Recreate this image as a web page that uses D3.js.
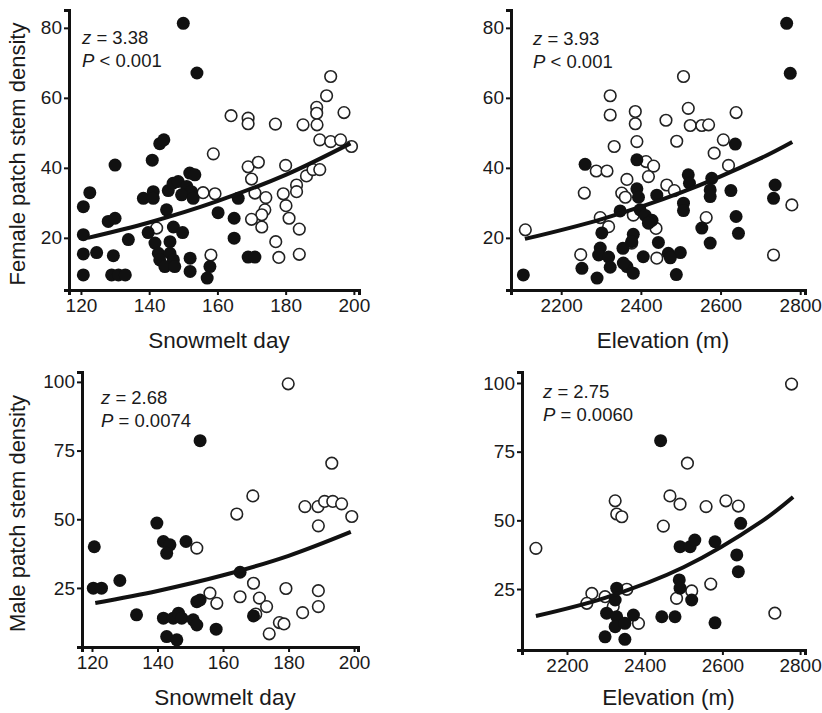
<!DOCTYPE html>
<html>
<head>
<meta charset="utf-8">
<script src="https://cdn.jsdelivr.net/npm/d3@7"></script>
<style>
  body { margin: 0; background: #fff; }
  svg text { font-family: "Liberation Sans", Arial, sans-serif; fill: #1a1a1a; }
</style>
</head>
<body>
<div id="container"></div>
<script>
// tick labels
var snowTicks = [120, 140, 160, 180, 200];
var elevTicks = [2200, 2400, 2600, 2800];
var femaleTicks = [20, 40, 60, 80];
var maleTicks = [25, 50, 75, 100];

// female patches vs snowmelt day  [day, density]
var femSnowFilled = [[150,81.3],[154,67.1],[143.1,46.9],[144.3,48],[140.9,42.2],[130,40.8],[122.6,32.9],[120.7,28.9],
  [128,24.7],[130,25.6],[120.7,20.9],[133.9,19.5],[120.7,15.4],[124.6,15.8],[129.5,14.9],[120.7,9.4],[129,9.4],
  [131,9.4],[133,9.4],[138.3,31.3],[141.2,33.2],[141.2,31.3],[145.6,33.5],[147,35.6],[148.5,36.1],[151,34.7],
  [151.9,38.5],[153.4,38],[152.4,33.2],[149.5,32.3],[152.9,31.3],[145.1,28],[139.7,21.5],[147.1,23.1],[149.8,21.5],
  [141.7,18.5],[146.1,18.9],[142.7,15.6],[146.1,15.6],[143.1,13.7],[147.1,13.7],[144.6,11.8],[147.5,11.8],
  [152,14.2],[152,10.4],[157.8,11.8],[157,8.5],[160.2,27.2],[164.9,25.6],[166.1,31.3],[164.9,19.9],[169,14.5],[171,14.5]];
var femSnowOpen = [[158.8,44],[193.2,66.1],[192,60.6],[189.1,57.3],[189.1,55.6],[197.1,55.8],[164,54.9],[169,54.2],
  [169,52.6],[177,52.5],[185.1,52.3],[189.2,52.3],[190,48],[193.2,47.5],[196.1,48],[199.3,46.1],[169,40.3],[172,41.6],
  [180,40.7],[186.1,37.7],[188,39.5],[190,39.5],[170,36.8],[183.2,35.1],[183.2,33.2],[155.8,32.9],[159.3,32.6],
  [171,32.8],[174.2,31.5],[173.9,28],[173,26.6],[170,25.3],[173,23.1],[179.3,32.6],[180.1,29.2],[181,25.6],[184,22.5],
  [177.1,18.9],[178,14.4],[184,15.3],[158.1,15.1],[142.2,22.8]];
var femSnowFit = [[122,20],[140,24.4],[160,30.5],[180,38],[199,47]];

// female patches vs elevation  [m, density]
var femElevFilled = [[2766,81.3],[2775,67],[2637,46.8],[2390,42.3],[2260,41],[2519,38],[2522,35.6],[2578,37],
  [2574,33.7],[2574,31.8],[2626,33.5],[2737,35.1],[2733,31.3],[2390,34],[2394,31.6],[2440,32.2],[2507,29.9],
  [2507,27.8],[2348,27.7],[2398,28],[2411,26.4],[2428,25],[2419,24.2],[2553,22.8],[2639,26.1],[2645,21.3],
  [2574,18.5],[2444,18.7],[2302,21.4],[2381,21],[2377,18.9],[2298,17.1],[2294,15.1],[2319,14.5],[2323,11.6],
  [2355,17],[2365,11.8],[2381,9.9],[2406,14.6],[2469,15.6],[2499,15.8],[2474,14.3],[2489,9.5],[2252,11.3],
  [2290,8.5],[2105,9.4],[2356,12.8]];
var femElevOpen = [[2323,60.6],[2323,55.1],[2333,46.1],[2386,56.1],[2386,52.6],[2390,47.5],[2507,66.1],[2519,57],
  [2639,55.8],[2463,53.6],[2524,52.1],[2553,52.1],[2570,52.3],[2490,47.6],[2607,48],[2584,44.2],[2620,40.7],
  [2288,39.1],[2315,39.1],[2413,41.8],[2432,40.5],[2419,37.5],[2365,36.7],[2465,35.1],[2484,33.5],[2352,32.8],
  [2361,31.6],[2258,32.8],[2381,26.5],[2298,25.8],[2319,23.2],[2438,22.7],[2564,25.8],[2377,18.5],[2440,14.2],
  [2249,15.2],[2110,22.3],[2779,29.4],[2733,15.1]];
var femElevFit = [[2109,19.7],[2300,25.3],[2500,32.9],[2700,42.7],[2780,47.4]];

// male patches vs snowmelt day
var maleSnowFilled = [[153,78.6],[139.8,48.6],[141.8,41.9],[143.8,40.7],[142.8,37.6],[148.7,41.9],[120.7,40],
  [165.2,30.7],[120.4,24.9],[122.9,24.9],[128.5,27.7],[152,20],[153,20.6],[169.3,14.8],[133.6,15.2],[141.8,14],
  [144.8,14],[146.4,15.8],[147.4,14],[150.9,13.4],[152,11.5],[142.8,7.3],[145.9,6.1],[157.9,10]];
var maleSnowOpen = [[179.9,99.3],[193.2,70.4],[169.1,58.5],[185,54.6],[189,54.6],[191,56.5],[193.5,56.5],
  [196.2,55.6],[199.3,51],[189.1,47.6],[164.2,51.9],[152,39.5],[156,23.1],[158.1,19.4],[165.2,21.8],[169.3,26.7],
  [171.1,21.3],[173.3,18.2],[179.2,24.8],[184.3,16],[189.1,24],[189.1,18.2],[174.1,8.3],[177.2,12.4],[178.6,11.9],
  [170,15.5]];
var maleSnowFit = [[121,19.5],[140,23.9],[160,29.6],[180,36.7],[199,45.4]];

// male patches vs elevation
var maleElevFilled = [[2441,79],[2647,48.9],[2491,40.4],[2517,40.4],[2529,42.8],[2581,42.2],[2637,37.4],
  [2641,31.3],[2328,25.3],[2324,21],[2302,16.2],[2328,14.9],[2324,11.3],[2349,12.5],[2371,15.5],[2298,7.6],
  [2349,6.7],[2444,14.9],[2478,14.9],[2489,28.3],[2491,25.3],[2521,21],[2581,12.7]];
var maleElevOpen = [[2778,99.6],[2510,70.8],[2465,58.9],[2491,55.9],[2558,55],[2609,57.1],[2641,55.2],
  [2324,57.1],[2328,52.3],[2341,51.3],[2448,47.9],[2120,39.8],[2264,23.4],[2251,19.8],[2298,22.2],[2354,24.9],
  [2319,18.6],[2384,12.5],[2482,21.6],[2521,24.3],[2570,26.8],[2735,16.2]];
var maleElevFit = [[2120,15.2],[2300,21.9],[2500,32.9],[2700,49.5],[2782,58.5]];

var width = 822, height = 713;

var svg = d3.select("#container")
  .append("svg")
  .attr("width", width)
  .attr("height", height);

var panels = [
  { filled: femSnowFilled, open: femSnowOpen, fit: femSnowFit,
    xd: [116.5, 201.5], xr: [69, 359], yd: [5.1, 85.1], yr: [290, 10],
    xt: snowTicks, yt: femaleTicks, xlab: "Snowmelt day", ylab: "Female patch stem density",
    z: "3.38", p: "< 0.001", tx: 82, ty: 44, xlabY: 348 },
  { filled: femElevFilled, open: femElevOpen, fit: femElevFit,
    xd: [2074, 2812], xr: [511, 805], yd: [5.1, 85.1], yr: [290, 10],
    xt: elevTicks, yt: femaleTicks, xlab: "Elevation (m)", ylab: null,
    z: "3.93", p: "< 0.001", tx: 533, ty: 45, xlabY: 348 },
  { filled: maleSnowFilled, open: maleSnowOpen, fit: maleSnowFit,
    xd: [116.95, 201.2], xr: [82, 358], yd: [3.5, 103.6], yr: [647, 372],
    xt: snowTicks, yt: maleTicks, xlab: "Snowmelt day", ylab: "Male patch stem density",
    z: "2.68", p: "= 0.0074", tx: 101, ty: 404, xlabY: 705 },
  { filled: maleElevFilled, open: maleElevOpen, fit: maleElevFit,
    xd: [2084.2, 2812.6], xr: [522, 805], yd: [2.8, 104], yr: [650, 372],
    xt: elevTicks, yt: maleTicks, xlab: "Elevation (m)", ylab: null,
    z: "2.75", p: "= 0.0060", tx: 543, ty: 398, xlabY: 705 }
];

panels.forEach(function(pn) {
  var x = d3.scaleLinear().domain(pn.xd).range(pn.xr);
  var y = d3.scaleLinear().domain(pn.yd).range(pn.yr);
  var g = svg.append("g");

  // axes
  var xa = g.append("g")
    .attr("transform", "translate(0," + pn.yr[0] + ")")
    .call(d3.axisBottom(x).tickValues(pn.xt).tickSize(5).tickPadding(3).tickFormat(d3.format("d")));
  var ya = g.append("g")
    .attr("transform", "translate(" + pn.xr[0] + ",0)")
    .call(d3.axisLeft(y).tickValues(pn.yt).tickSize(5).tickPadding(2).tickFormat(d3.format("d")));
  [xa, ya].forEach(function(a) {
    a.select(".domain").attr("stroke", "#111").attr("stroke-width", 3);
    a.selectAll(".tick line").attr("stroke", "#111").attr("stroke-width", 2);
    a.selectAll(".tick text").style("font-size", "19px").attr("fill", "#1a1a1a")
      .style("font-family", "'Liberation Sans', Arial, sans-serif");
  });
  xa.selectAll(".tick text").attr("dy", "0.72em");

  // axis titles
  g.append("text")
    .attr("x", (pn.xr[0] + pn.xr[1]) / 2 + 5)
    .attr("y", pn.xlabY)
    .attr("text-anchor", "middle")
    .style("font-size", "22.5px")
    .text(pn.xlab);
  if (pn.ylab) {
    g.append("text")
      .attr("transform", "translate(25," + ((pn.yr[0] + pn.yr[1]) / 2 + 4) + ") rotate(-90)")
      .attr("text-anchor", "middle")
      .style("font-size", "22px")
      .text(pn.ylab);
  }

  // points
  g.selectAll(".open")
    .data(pn.open)
    .enter().append("circle")
    .attr("class", "open")
    .attr("cx", function(d) { return x(d[0]); })
    .attr("cy", function(d) { return y(d[1]); })
    .attr("r", 5.8)
    .attr("fill", "#fff")
    .attr("stroke", "#222")
    .attr("stroke-width", 1.6);
  g.selectAll(".filled")
    .data(pn.filled)
    .enter().append("circle")
    .attr("class", "filled")
    .attr("cx", function(d) { return x(d[0]); })
    .attr("cy", function(d) { return y(d[1]); })
    .attr("r", 6.5)
    .attr("fill", "#111");

  // fitted curve
  var line = d3.line()
    .x(function(d) { return x(d[0]); })
    .y(function(d) { return y(d[1]); })
    .curve(d3.curveCatmullRom);
  g.append("path")
    .datum(pn.fit)
    .attr("d", line)
    .attr("fill", "none")
    .attr("stroke", "#111")
    .attr("stroke-width", 4);

  // statistics
  var t1 = g.append("text").attr("x", pn.tx).attr("y", pn.ty).style("font-size", "18.5px");
  t1.append("tspan").style("font-style", "italic").text("z");
  t1.append("tspan").text(" = " + pn.z);
  var t2 = g.append("text").attr("x", pn.tx).attr("y", pn.ty + 23).style("font-size", "18.5px");
  t2.append("tspan").style("font-style", "italic").text("P");
  t2.append("tspan").text(" " + pn.p);
});
</script>
</body>
</html>
